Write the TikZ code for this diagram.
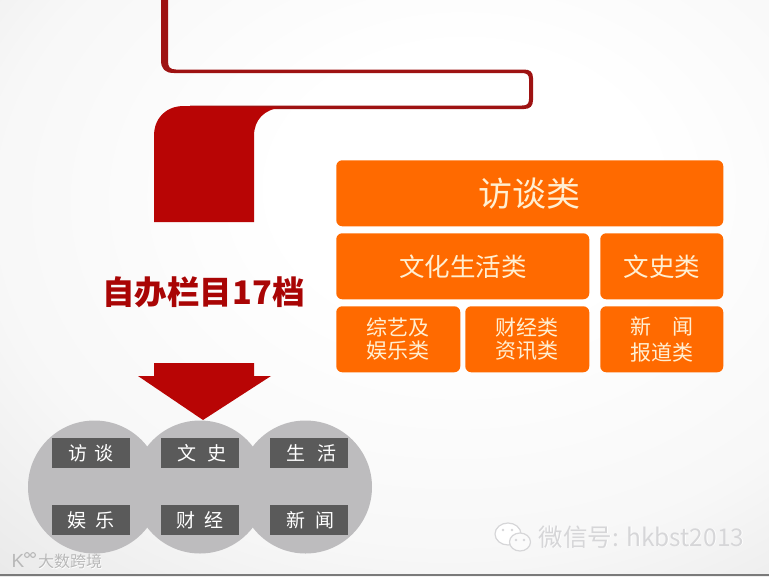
\documentclass[tikz,border=0pt]{standalone}
\usepackage{fontspec}
\setmainfont{Noto Sans CJK SC}
\newfontfamily\latinwm{Liberation Sans}
\newcommand{\fs}[1]{\pgfmathparse{#1*0.75}\fontsize{\pgfmathresult}{\pgfmathresult}\selectfont}
\newcommand{\tg}[1]{\raisebox{-1pt}{#1}}
\definecolor{redfill}{HTML}{B80505}
\definecolor{redline}{HTML}{9E1212}
\definecolor{orangebox}{HTML}{FF6A00}
\definecolor{orangetext}{HTML}{FFEFD2}
\definecolor{circlegray}{HTML}{BDBCBE}
\definecolor{tagdark}{HTML}{5A5A5A}
\definecolor{wmgray}{HTML}{D6D6D8}
\pgfdeclareradialshading{slidebg}{\pgfpoint{6bp}{10bp}}{
  color(0bp)=(white);color(12bp)=(white);color(30bp)=(black!3);color(50bp)=(black!12);color(100bp)=(black!13)}
\tikzset{
  x=0.75pt,y=-0.75pt,
  orangecell/.style={draw=none,fill=orangebox,rounded corners=4.5pt,inner sep=0pt,text=orangetext,align=center,anchor=north west},
  tagbox/.style={fill=tagdark,inner sep=0pt,minimum width=58.5pt,minimum height=22.5pt,text=white,font=\fs{19}},
  disc/.style={circle,fill=circlegray,inner sep=0pt,minimum size=99.75pt},
  wm/.style={text=wmgray,inner sep=0pt}
}
\begin{document}
\begin{tikzpicture}
\useasboundingbox (0,0) rectangle (769,576);
\shade[shading=slidebg] (0,0) rectangle (769,576);
\fill[black!52] (0,574.3) rectangle (769,576);
% red ribbon
\fill[redline] (161,0) -- (161,60) .. controls (161,69) and (165,73) .. (174,73) -- (522,73)
  .. controls (527,73) and (529,75) .. (529,79) -- (529,99) .. controls (529,104) and (527,105.5) .. (522,105.5)
  -- (190,105.5) -- (190,109) -- (524,109) .. controls (530,109) and (533,106) .. (533,100)
  -- (533,78) .. controls (533,72) and (530,69.5) .. (524,69.5) -- (176,69.5)
  .. controls (170,69.5) and (168,67) .. (168,61) -- (168,0) -- cycle;
\fill[redfill] (154,222) -- (154,136) .. controls (154,118) and (166,106) .. (184,106) -- (282,107.5)
  .. controls (264,109) and (254,120) .. (254,136) -- (254,222) -- cycle;
% headline
\node[inner sep=0pt,text=redfill!92!black,font=\fs{32.5}\bfseries] (title) at (203.5,292) {自办栏目17档};
% orange table
\node[orangecell,minimum width=290.25pt,minimum height=49.5pt,font=\fs{34}] (a) at (336,160) {\raisebox{-1.5pt}{访谈类}};
\node[orangecell,minimum width=189.75pt,minimum height=49.5pt,font=\fs{25.5}] (b) at (336,233) {文化生活类};
\node[orangecell,minimum width=92.25pt,minimum height=49.5pt,font=\fs{25.5}] (c) at (600,233) {文史类};
\node[orangecell,minimum width=93pt,minimum height=49.5pt,font=\fs{21}] (d) at (336,306) {综艺及\\[1.5pt]娱乐类};
\node[orangecell,minimum width=93pt,minimum height=49.5pt,font=\fs{21}] (e) at (465,306) {财经类\\[1.5pt]资讯类};
\node[orangecell,minimum width=92.25pt,minimum height=49.5pt,font=\fs{21}] (f) at (600,306) {新\hspace{1em}闻\\[4pt]报道类};
% circles
\node[disc] (c1) at (94.5,487) {};
\node[disc] (c2) at (200,487) {};
\node[disc] (c3) at (305.5,487) {};
% arrow
\fill[redfill] (154,363) -- (254,363) -- (254,376) -- (271,376) -- (203,420) -- (138,376) -- (154,376) -- cycle;
% tags
\node[tagbox] (t1) at (91,453.3) {\tg{访\hspace{0.35em}谈}\hspace{4.5pt}};
\node[tagbox] (t2) at (200,453.3) {\hspace{3pt}\tg{文\hspace{0.6em}史}};
\node[tagbox] (t3) at (308.5,453.3) {\hspace{4.5pt}\tg{生\hspace{0.6em}活}};
\node[tagbox] (t4) at (91,520) {\tg{娱\hspace{0.5em}乐}\hspace{3pt}};
\node[tagbox] (t5) at (200,520) {\tg{财\hspace{0.5em}经}};
\node[tagbox] (t6) at (308.5,520) {\hspace{3pt}\tg{新\hspace{0.5em}闻}};
% watermarks
\node[wm,text=white,font=\fs{16}] (w1s) at (70.7,562.2) {大数跨境};
\node[wm,text=black!28,font=\fs{16}] (w1) at (70,561.5) {大数跨境};
\node[wm,text=black!28,font=\latinwm\fs{19}] (w1l) at (18,561) {K};
\draw[black!28,line width=0.8pt] (27,555) circle[radius=2.4] (33,555) circle[radius=2.4];
\node[wm,text=white,font=\fs{24.5}] (w2s) at (642.3,537.7) {微信号: hkbst2013};
\node[wm,font=\fs{24.5}] (w2) at (641.5,537) {微信号: hkbst2013};
\draw[wmgray,fill=white,line width=0.9pt] (508,534) ellipse[x radius=13,y radius=11];
\draw[wmgray,fill=white!90!wmgray,line width=0.9pt] (520,542) ellipse[x radius=10.5,y radius=9];
\fill[wmgray] (516,540) circle[radius=1.3] (524,540) circle[radius=1.3] (503,530) circle[radius=1.3] (512,530) circle[radius=1.3];
\end{tikzpicture}
\end{document}
